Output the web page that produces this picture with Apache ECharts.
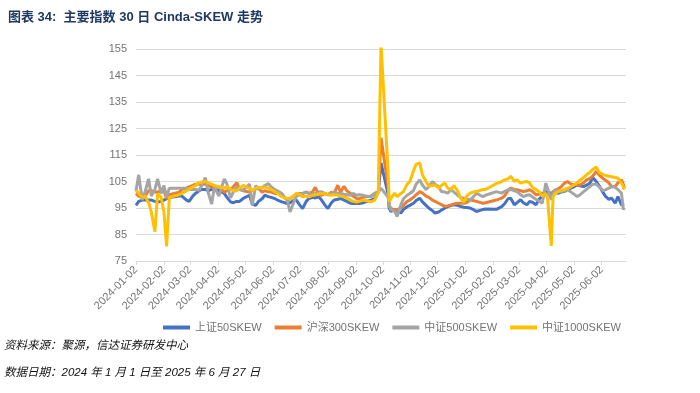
<!DOCTYPE html>
<html>
<head>
<meta charset="utf-8">
<script src="https://cdn.jsdelivr.net/npm/echarts@6/dist/echarts.min.js"></script>
<style>
html,body{margin:0;padding:0;background:#fff;}
#c{width:700px;height:393px;}
</style>
</head>
<body>
<div id="c"></div>
<script>
const dates = [
'2024-01-02','2024-01-05','2024-01-09','2024-01-12','2024-01-16','2024-01-19','2024-01-23','2024-01-26','2024-01-30',
'2024-02-02','2024-02-05','2024-02-08','2024-02-19','2024-02-22','2024-02-27',
'2024-03-01','2024-03-05','2024-03-08','2024-03-12','2024-03-15','2024-03-19','2024-03-22','2024-03-26','2024-03-29',
'2024-04-03','2024-04-09','2024-04-12','2024-04-16','2024-04-19','2024-04-23','2024-04-26','2024-04-30',
'2024-05-07','2024-05-10','2024-05-14','2024-05-17','2024-05-21','2024-05-24','2024-05-28','2024-05-31',
'2024-06-04','2024-06-07','2024-06-12','2024-06-14','2024-06-18','2024-06-21','2024-06-25','2024-06-28',
'2024-07-02','2024-07-05','2024-07-09','2024-07-12','2024-07-16','2024-07-19','2024-07-23','2024-07-26','2024-07-30',
'2024-08-02','2024-08-06','2024-08-09','2024-08-13','2024-08-16','2024-08-20','2024-08-23','2024-08-27','2024-08-30',
'2024-09-03','2024-09-06','2024-09-10','2024-09-13','2024-09-19','2024-09-23','2024-09-25','2024-09-27','2024-09-30',
'2024-10-08','2024-10-09','2024-10-11','2024-10-15','2024-10-18','2024-10-22','2024-10-25','2024-10-29',
'2024-11-01','2024-11-05','2024-11-08','2024-11-12','2024-11-15','2024-11-19','2024-11-22','2024-11-26','2024-11-29',
'2024-12-03','2024-12-06','2024-12-10','2024-12-13','2024-12-17','2024-12-20','2024-12-24','2024-12-27','2024-12-31',
'2025-01-03','2025-01-07','2025-01-10','2025-01-14','2025-01-17','2025-01-21','2025-01-24',
'2025-02-05','2025-02-07','2025-02-11','2025-02-14','2025-02-18','2025-02-21','2025-02-25','2025-02-28',
'2025-03-04','2025-03-07','2025-03-11','2025-03-14','2025-03-18','2025-03-21','2025-03-25','2025-03-28',
'2025-04-01','2025-04-03','2025-04-07','2025-04-09','2025-04-11','2025-04-15','2025-04-18','2025-04-22','2025-04-25','2025-04-29',
'2025-05-06','2025-05-09','2025-05-13','2025-05-16','2025-05-20','2025-05-23','2025-05-27','2025-05-30',
'2025-06-04','2025-06-06','2025-06-10','2025-06-13','2025-06-17','2025-06-20','2025-06-24','2025-06-26','2025-06-27'
];

const sz50 = [
96,97.5,98,98,98,98,97.5,97.3,97.5,
98,98.5,99,99.5,99.5,98,
97.5,99.5,100.5,101.5,102,102,101.5,102,102,
101.5,100.5,99,97.3,97,97.5,97.5,98.6,
99.8,96.5,96,97.5,98.5,99.8,99.3,99,
98.6,98,97.3,97,96.7,97,97.8,98,
96,94.8,97.5,98.6,99,98.8,99.2,98,96,
94.8,97,98,98.3,98.6,98,97.5,96.8,96.7,
96.7,96.7,97,97.3,98,98.5,99.2,101,112,
100,95,93.7,94.4,94,93.1,94.5,95.5,
96,96.8,97.8,98.7,97.3,96,95,94,93.1,
93.5,94.2,95,95.5,96,96.2,96,95.6,95.3,
95.2,95,94.5,93.7,94,94.4,94.6,
94.5,94.8,95.5,96.5,98.5,98.7,96.2,97,
98.1,97,96.2,97.5,97,96.2,98.5,99.5,
101.2,101,100.6,100.6,100.8,100.6,101,101.3,102,102.5,
103.7,103.4,103.1,103.6,104.4,106.5,105,103.5,
100.6,99.5,98.3,98.7,96.8,99.3,96.2,96.5,96.2
];

const hs300 = [
100.5,99.5,99,99.5,101.5,101.5,101,101,101.5,
101.5,98.5,100,101,102,102.5,
103,103.5,104,104,104,104,103.5,103,102.5,
103,101,101.5,102,103,104.5,102,101.5,
101,101.5,102.5,102.4,101,101.5,101.1,101,
100.5,100.5,99.8,99.5,98,98.5,99.5,100,
100.5,100.5,101,100.5,101,102.8,100,99.8,100.5,
100,101,100.5,103.6,101,103.2,101.5,100.5,99.5,
98.6,98.5,99,99.2,99.5,100.5,100.5,101.1,121.5,
103,96,94.9,94.2,94.5,94.9,96,97.5,
98,99,100,101.2,100.6,99.5,99,98,97.5,
96.8,96.3,95.6,95.8,96.2,96.5,96.8,96.8,96.8,
97,98.1,97.8,97.5,97.2,96.8,97,
98,98.3,98.7,99.5,101.5,102.5,102,101.9,
101.5,101.2,101.5,101.9,101,100,100.3,100.6,
100.3,100,100,101.2,101.5,102.3,103,104.5,105,104,
103.7,103.7,104.5,105.6,106.2,107,108.8,107.5,
106,105.6,104.5,103.1,103.1,104.5,105.6,104,102.5
];

const zz500 = [
101.5,107.5,98,101,106,99.5,102,106,100.5,
103.5,99,102.5,102.5,102.5,102.5,
102,102,102,101.7,103.5,106.5,101,96.5,103,
99.5,106,104,98.8,101,103,102,101.7,
104,96,103.5,102,102.7,103.5,104.2,103,
102,101.5,100.5,99.5,98,93.5,97,99.5,
100,100.5,101,100.5,99.8,100.5,101,101.1,100.5,
100,100.5,101,100.5,100.5,100.2,100,99.8,100.5,
99.8,100,99.8,99.5,99.2,100.5,100.5,101,102.5,
99,96,94.4,93.8,91.8,96.2,98.5,99.8,
100.5,101.5,104,105.6,103.7,102,103,105,104,
103,101.2,101,100.6,101.9,101,99.9,99,98.7,
98.3,98.1,99,100.6,100,99.3,99.8,
101.2,101,100.6,101.2,101.9,102,101.5,101.2,
100,99.3,99.8,100,99,98.3,97.5,96.8,
104.4,103.7,98.1,100,101.9,101.5,101.2,101.5,101.9,101,
99.3,100,101.2,102,103.1,104,104,103,
101.5,101.2,102.5,103,102.8,102,100.6,94.4,95
];

const zz1000 = [
101.7,100.5,99,99.5,97,93.5,86,100.5,99,
93.5,80.5,99,100,100.5,101.5,
102,103,103.5,104.5,104.8,105,104.5,104,103.5,
103,102.5,103,102,101.5,101.5,102.5,103.5,
102.5,101.5,102.5,102.8,102.6,103,102.5,102,
101.2,100.5,99.2,99,98.6,98.6,99.5,100.5,
100,99.2,99.5,99.2,99.8,100,100.3,100.5,100.5,
100,99.8,100,99.8,99.5,99.2,98.7,98,97.5,
97.3,97.5,98,97.8,97.3,98,98.5,101,157,
108,97.5,97.5,100.6,99.3,100.5,101.2,104,
105,109,111.5,112,107.5,105,103.3,103.5,103.7,
102.5,103.5,104.4,102.5,102,103.5,101.5,99,97,
99.5,100.6,101,101.2,101.5,102,102,
104.2,104.4,105,105.6,106,107,105,105.6,
104.4,104.8,105,104.4,102.5,102,101,99.5,
100.5,98.5,80.7,99,100.5,101.2,101.5,102,102.5,103,
104.5,105.5,106.5,107.5,108.5,109.5,110.5,108.5,
107.5,107,107,106.8,106.5,106.3,104.4,103,101.9
];

const tickDates = ['2024-01-02','2024-02-02','2024-03-02','2024-04-02','2024-05-02','2024-06-02',
'2024-07-02','2024-08-02','2024-09-02','2024-10-02','2024-11-02','2024-12-02',
'2025-01-02','2025-02-02','2025-03-02','2025-04-02','2025-05-02','2025-06-02'];

const seriesNames = ['上证50SKEW','沪深300SKEW','中证500SKEW','中证1000SKEW'];
const seriesColors = ['#4472C4','#ED7D31','#A5A5A5','#FFC000'];
const seriesValues = [sz50, hs300, zz500, zz1000];

const FONT = "'Liberation Sans','Noto Sans CJK SC',sans-serif";
function ts(d){ const p=d.split('-').map(Number); return Date.UTC(p[0],p[1]-1,p[2]); }
function fmt(v){ const t=new Date(v); const m=t.getUTCMonth()+1, dd=t.getUTCDate();
  return t.getUTCFullYear()+'-'+(m<10?'0':'')+m+'-'+(dd<10?'0':'')+dd; }
const tickTs = tickDates.map(ts);

const chart = echarts.init(document.getElementById('c'), null, {renderer:'canvas'});
chart.setOption({
  animation:false,
  backgroundColor:'#ffffff',
  title:{
    text:'图表 34:  主要指数 30 日 Cinda-SKEW 走势',
    left:3, top:6,
    textStyle:{fontFamily:FONT, fontSize:13, fontWeight:'bold', color:'#1F3864'}
  },
  legend:{
    left:158, top:317,
    itemWidth:27, itemHeight:4, itemGap:13,
    icon:'rect',
    textStyle:{fontFamily:FONT, fontSize:11, color:'#737373'},
    data:seriesNames
  },
  grid:{left:136, right:74, top:49, bottom:132, containLabel:false},
  xAxis:{
    type:'value',
    min:ts('2024-01-02'), max:ts('2025-06-29'),
    axisLine:{show:true, onZero:false, lineStyle:{color:'#D9D9D9'}},
    axisTick:{show:true, customValues:tickTs, length:4, lineStyle:{color:'#D9D9D9'}},
    splitLine:{show:false},
    axisLabel:{
      customValues:tickTs, rotate:45, margin:7,
      fontFamily:FONT, fontSize:11, color:'#737373',
      formatter:function(v){ return fmt(v); }
    }
  },
  yAxis:{
    type:'value', min:75, max:155, interval:10,
    axisLine:{show:false}, axisTick:{show:false},
    splitLine:{lineStyle:{color:'#D9D9D9'}},
    axisLabel:{fontFamily:FONT, fontSize:11, color:'#737373', margin:9}
  },
  series: seriesValues.map((vals,i)=>({
    name:seriesNames[i], type:'line', showSymbol:false, symbol:'none',
    color:seriesColors[i],
    lineStyle:{width:3, color:seriesColors[i]},
    data: dates.map((d,j)=>[ts(d), vals[j]])
  })),
  graphic:[
    {type:'text', left:4, top:340, style:{text:'资料来源：聚源，信达证券研发中心', fontFamily:FONT, fontSize:11.5, fontStyle:'italic', fill:'#111'}},
    {type:'text', left:4, top:367, style:{text:'数据日期：2024 年 1 月 1 日至 2025 年 6 月 27 日', fontFamily:FONT, fontSize:11.5, fontStyle:'italic', fill:'#111'}}
  ]
});
</script>
</body>
</html>
